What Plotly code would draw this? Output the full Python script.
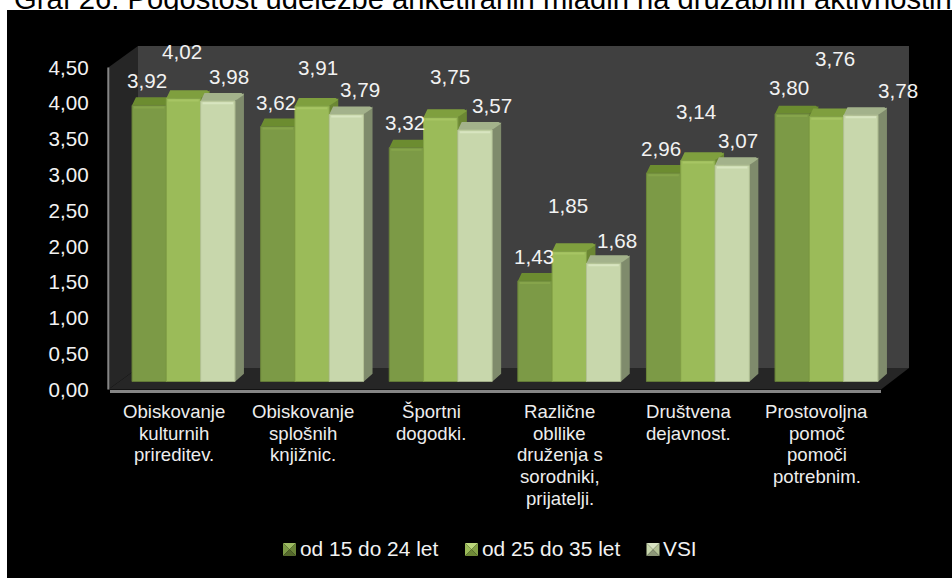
import plotly.graph_objects as go

W, H = 952, 578

title_text = "Graf 26: Pogostost udeležbe anketiranih mladih na družabnih aktivnostih"
categories = [
    ["Obiskovanje", "kulturnih", "prireditev."],
    ["Obiskovanje", "splošnih", "knjižnic."],
    ["Športni", "dogodki."],
    ["Različne", "obllike", "druženja s", "sorodniki,", "prijatelji."],
    ["Društvena", "dejavnost."],
    ["Prostovoljna", "pomoč", "pomoči", "potrebnim."],
]
series_names = ["od 15 do 24 let", "od 25 do 35 let", "VSI"]
values_15_24 = [3.92, 3.62, 3.32, 1.43, 2.96, 3.80]
values_25_35 = [4.02, 3.91, 3.75, 1.85, 3.14, 3.76]
values_vsi = [3.98, 3.79, 3.57, 1.68, 3.07, 3.78]
all_values = [values_15_24, values_25_35, values_vsi]
y_ticks = [0, 0.5, 1, 1.5, 2, 2.5, 3, 3.5, 4, 4.5]

# styling
front_colors = ["#7C9A46", "#9BBB59", "#C8D7AC"]
edge_colors = ["#6B8539", "#84A247", "#B4C396"]
side_colors = ["#5F7A2E", "#6B8733", "#7F8B6C"]
top_colors = ["#6C8C30", "#7F9F3E", "#A3B28B"]
rim_colors = ["#86A44B", "#A7C564", "#D8E5C0"]
legend_hi = ["#9DBB62", "#BCD87C", "#D8E3C2"]
legend_lo = ["#55692C", "#6F8A38", "#8C9778"]
label_dx = [[-2, -2, -1, -1, -3, -3], [-2, 6, 9, -1, -2, 8], [11, 14, 17, 13, 6, 37]]
label_dy = [25, 48, 25]
label_dy_extra = [[0, -1, 0, -1, 0, 1], [-1, -9, -7, -2, 1, 10], [0, 0, 0, -2, 0, 0]]
legend_marker_x = [289.5, 471.5, 653]
legend_text_x = [300, 481.5, 663]


def px(x):
    return x / W


def py(y):
    return 1 - y / H


def poly(points):
    d = "M" + " L".join(f"{px(a):.5f},{py(b):.5f}" for a, b in points) + " Z"
    return d


# pixel geometry of the box
F_L, F_R, F_B, F_T = 109.7, 881.0, 389.5, 67.5   # front plane (axis scale)
B_L, B_R, B_B, B_T = 138.0, 909.0, 368.0, 46.0   # back wall
BAR_L, BAR_R = 119.2, 890.8
BAR_B, UNIT = 381.7, 70.5
BAR_T = BAR_B - 4.5 * UNIT
PER_CAT = (BAR_R - BAR_L) / 6
DX = 9.0 / PER_CAT
DY = 8.0 / UNIT
BW = 0.8 / 3

shapes = []


def add_poly(points, color):
    shapes.append(dict(type="path", xref="paper", yref="paper", layer="below",
                       path=poly(points), fillcolor=color, line=dict(width=0)))


add_poly([(7, 10), (W, 10), (W, H), (7, H)], "#000000")
add_poly([(B_L, B_T), (B_R, B_T), (B_R, B_B), (B_L, B_B)], "#404040")
add_poly([(108.3, F_T), (B_L, B_T), (B_L, B_B), (108.3, F_B)], "#262626")
add_poly([(108.3, F_B), (F_R, F_B), (B_R, B_B), (B_L, B_B)], "#262626")

fig = go.Figure()

# side and top faces, computed from the values, on a subplot beneath the fronts
for s, vals in enumerate(all_values):
    sx, sy, tx, ty = [], [], [], []
    for i, v in enumerate(vals):
        x0 = i + (s - 1.5) * BW
        x1 = x0 + BW
        sx += [x1, x1 + DX, x1 + DX, x1, None]
        sy += [0, DY, v + DY, v, None]
        tx += [x0, x0 + 0.03, x1 + DX - 0.02, x1 + DX, x1, None]
        ty += [v, v + DY, v + DY, v + DY * 0.8, v, None]
    fig.add_trace(go.Scatter(x=sx, y=sy, xaxis="x2", yaxis="y2", mode="lines", fill="toself",
                             fillcolor=side_colors[s], line=dict(width=0), hoverinfo="skip",
                             showlegend=False))
    fig.add_trace(go.Scatter(x=tx, y=ty, xaxis="x2", yaxis="y2", mode="lines", fill="toself",
                             fillcolor=top_colors[s], line=dict(width=0), hoverinfo="skip",
                             showlegend=False))

# front faces
for s, vals in enumerate(all_values):
    fig.add_trace(go.Bar(x=list(range(len(vals))), y=vals, name=series_names[s], xaxis="x3", yaxis="y3",
                         marker=dict(color=front_colors[s], line=dict(color=edge_colors[s], width=1)),
                         showlegend=False))

# bright rim at the top edge of each front
for s, vals in enumerate(all_values):
    rx, ry = [], []
    for i, v in enumerate(vals):
        x0 = i + (s - 1.5) * BW
        rx += [x0 + 0.015, x0 + BW - 0.015, None]
        ry += [v - 0.03, v - 0.03, None]
    fig.add_trace(go.Scatter(x=rx, y=ry, xaxis="x3", yaxis="y3", mode="lines",
                             line=dict(color=rim_colors[s], width=2), hoverinfo="skip",
                             showlegend=False))

annotations = []
LABEL_FONT = dict(family="Liberation Sans", size=20.6, color="#F2F2F2")

# data labels
for s, vals in enumerate(all_values):
    for i, v in enumerate(vals):
        annotations.append(dict(
            x=i + (s - 1) * BW, y=v, xref="x3", yref="y3", showarrow=False,
            text=f"{v:.2f}".replace(".", ","), font=LABEL_FONT,
            xshift=label_dx[s][i], yshift=label_dy[s] + label_dy_extra[s][i],
            xanchor="center", yanchor="middle"))

# category labels, one per line for the tight line pitch of the original
for i, lines in enumerate(categories):
    for j, line in enumerate(lines):
        annotations.append(dict(
            x=i, y=py(411.7 + 21.6 * j), xref="x", yref="paper", showarrow=False, text=line,
            font=dict(family="Liberation Sans", size=18.6, color="#EDEDED"),
            xanchor="center", yanchor="middle"))

# legend
for s, name in enumerate(series_names):
    cx, cy, r = legend_marker_x[s], 549.5, 6.5
    tl, tr, br, bl = (cx - r, cy - r), (cx + r, cy - r), (cx + r, cy + r), (cx - r, cy + r)
    c = (cx, cy)
    add_poly([tl, tr, c], legend_hi[s])
    add_poly([tl, c, bl], front_colors[s])
    add_poly([tr, br, c], edge_colors[s])
    add_poly([bl, br, c], legend_lo[s])
    annotations.append(dict(
        x=px(legend_text_x[s]), y=py(548.5), xref="paper", yref="paper", showarrow=False, text=name,
        font=dict(family="Liberation Sans", size=20.9, color="#F2F2F2"),
        xanchor="left", yanchor="middle", xshift=-2))

hidden = dict(visible=False, fixedrange=True, automargin=False)
fig.update_layout(
    template="none",
    width=W, height=H, margin=dict(l=0, r=0, t=0, b=0),
    paper_bgcolor="#FFFFFF", plot_bgcolor="rgba(0,0,0,0)",
    title=dict(text=title_text, x=px(14), xanchor="left", xref="paper", yref="paper",
               y=py(9), yanchor="bottom", pad=dict(t=0, b=0, l=0, r=0),
               font=dict(family="Liberation Sans", size=29.2, color="#000000")),
    separators=",.", showlegend=False, barmode="group", bargap=0.2, bargroupgap=0,
    shapes=shapes, annotations=annotations,
    xaxis=dict(domain=[px(F_L), px(F_R)], range=[-0.5, 5.5], showticklabels=False, ticks="",
               showgrid=False, zeroline=False, showline=True, linecolor="#858585", linewidth=3,
               anchor="y", fixedrange=True, automargin=False),
    yaxis=dict(domain=[py(F_B), py(F_T)], range=[0, 4.5], tickvals=y_ticks, tickformat=".2f",
               tickfont=dict(family="Liberation Sans", size=20.6, color="#F2F2F2"),
               showgrid=False, zeroline=False, showline=False, ticks="", ticklabelstandoff=20,
               anchor="x", fixedrange=True, automargin=False),
    xaxis2=dict(domain=[px(BAR_L), px(BAR_R)], range=[-0.5, 5.5], anchor="y2", **hidden),
    yaxis2=dict(domain=[py(BAR_B), py(BAR_T)], range=[0, 4.5], anchor="x2", **hidden),
    xaxis3=dict(domain=[px(BAR_L), px(BAR_R)], range=[-0.5, 5.5], anchor="y3", **hidden),
    yaxis3=dict(domain=[py(BAR_B), py(BAR_T)], range=[0, 4.5], anchor="x3", **hidden),
)
# left axis line of the box, as a vertical stroke along the front plane
fig.add_shape(type="line", xref="paper", yref="paper", layer="below",
              x0=px(108.3), x1=px(108.3), y0=py(F_B), y1=py(F_T),
              line=dict(color="#858585", width=2))

fig.write_html("out.html", config=dict(displayModeBar=False),
               post_script="document.body.style.margin='0';document.body.style.overflow='hidden';")
